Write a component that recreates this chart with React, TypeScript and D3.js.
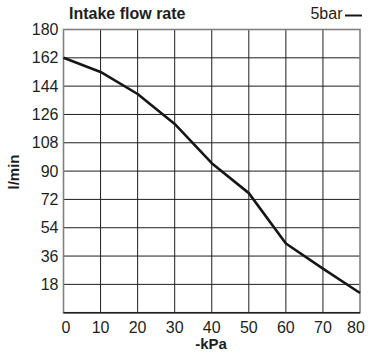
import * as d3 from "d3";
import { FC } from "react";

const PRESSURE: number[] = [0, 10, 20, 30, 40, 50, 60, 70, 80];
const FLOW_5BAR: number[] = [162, 153, 139, 120, 95, 76, 44, 28, 12.5];
const Y_TICKS: number[] = [18, 36, 54, 72, 90, 108, 126, 144, 162, 180];
const X_TICKS: number[] = [0, 10, 20, 30, 40, 50, 60, 70, 80];

const W = 369;
const H = 353;
const margin = { top: 29.5, right: 9, bottom: 40.3, left: 63.5 };

const App: FC = () => {
  const x = d3
    .scaleLinear()
    .domain([0, 80])
    .range([margin.left, W - margin.right]);
  const y = d3
    .scaleLinear()
    .domain([0, 180])
    .range([H - margin.bottom, margin.top]);

  const line = d3
    .line<number>()
    .x((_, i) => x(PRESSURE[i]))
    .y((d) => y(d));

  const font = "'Liberation Sans', Arial, Helvetica, sans-serif";

  // keep the end labels inside the picture, like the original
  const labelX = (t: number) => Math.min(Math.max(x(t), 66), W - 13);

  return (
    <svg
      width={W}
      height={H}
      style={{ position: "absolute", left: 0, top: 0, background: "#fff" }}
      fontFamily={font}
    >
      {/* grid */}
      <g stroke="#1e1e1e" strokeWidth={1}>
        {X_TICKS.slice(1, -1).map((t) => (
          <line key={"gx" + t} x1={x(t)} x2={x(t)} y1={y(180)} y2={y(0)} />
        ))}
        {Y_TICKS.slice(0, -1).map((t) => (
          <line key={"gy" + t} x1={x(0)} x2={x(80)} y1={y(t)} y2={y(t)} />
        ))}
      </g>
      {/* frame */}
      <rect
        x={x(0)}
        y={y(180)}
        width={x(80) - x(0)}
        height={y(0) - y(180)}
        fill="none"
        stroke="#808080"
        strokeWidth={1.6}
      />
      <line x1={x(0)} x2={x(80)} y1={y(0)} y2={y(0)} stroke="#1e1e1e" strokeWidth={1.4} />

      {/* series */}
      <path
        d={line(FLOW_5BAR) || ""}
        fill="none"
        stroke="#161616"
        strokeWidth={2.6}
        strokeLinejoin="round"
      />

      {/* y tick labels */}
      <g fontSize={16} fill="#1e1e1e" textAnchor="end">
        {Y_TICKS.map((t) => (
          <text key={"yl" + t} x={58.5} y={y(t) + 5.5}>
            {t}
          </text>
        ))}
      </g>
      {/* x tick labels */}
      <g fontSize={16} fill="#1e1e1e" textAnchor="middle">
        {X_TICKS.map((t) => (
          <text key={"xl" + t} x={labelX(t)} y={332.7}>
            {t}
          </text>
        ))}
      </g>

      <text x={211} y={349} fontSize={15} fontWeight="bold" textAnchor="middle" fill="#1e1e1e">
        -kPa
      </text>
      <text
        transform="translate(18.5,172) rotate(-90)"
        fontSize={15}
        fontWeight="bold"
        textAnchor="middle"
        fill="#1e1e1e"
      >
        l/min
      </text>
      <text x={69} y={19.3} fontSize={16} fontWeight="bold" fill="#1e1e1e">
        Intake flow rate
      </text>
      <text x={342.5} y={19.3} fontSize={16} textAnchor="end" fill="#1e1e1e">
        5bar
      </text>
      <line x1={345} x2={362} y1={15.5} y2={15.5} stroke="#161616" strokeWidth={2} />
    </svg>
  );
};

export default App;
